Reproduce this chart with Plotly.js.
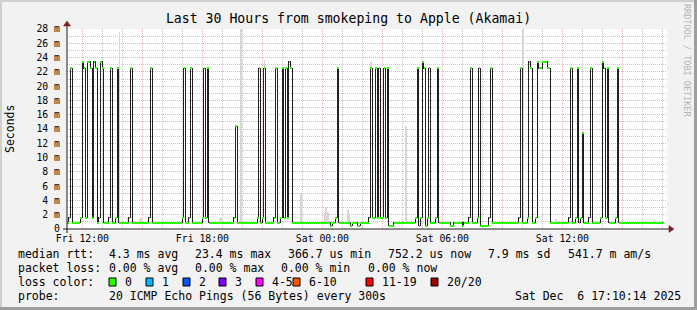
<!DOCTYPE html>
<html><head><meta charset="utf-8">
<script src="https://cdn.plot.ly/plotly-3.0.1.min.js"></script>
<style>html,body{margin:0;padding:0;background:#f2f2f2;}#chart{width:697px;height:310px;}
.scatterlayer .js-line{shape-rendering:crispEdges;}</style>
</head><body><div id="chart"></div>
<script>
// ---- data ----
const START_HOUR = 11.23;          // hours since Fri 00:00 at left edge
const STEP_HOURS = 5 / 60;         // 300 s samples
const medianMs = [
0.85,1.6,22.5,0.85,0.85,0.85,0.85,0.85,1.6,23.4, 22.5,1.6,23.4,23.4,22.5,1.6,23.4,22.5,0.85,1.6,
23.4,22.5,0.85,0.85,0.85,1.6,22.5,0.85,0.85,1.6, 22.5,0.85,0.85,0.85,0.85,0.85,0.85,1.6,22.5,0.85,
0.85,0.85,0.85,0.85,0.85,0.85,0.85,0.85,0.85,1.6, 22.5,0.85,0.85,0.85,0.85,0.85,0.85,0.85,0.85,0.85,
0.85,0.85,0.85,0.85,0.85,0.85,0.85,0.85,0.85,1.6, 22.5,0.85,0.85,1.6,22.5,0.85,0.85,0.85,0.85,0.85,
0.85,1.6,22.5,1.6,22.5,0.85,0.85,0.85,0.85,0.85, 0.85,0.85,0.85,0.85,0.85,0.85,0.85,0.85,0.85,0.85,
1.6,14.4,0.85,0.85,0.85,0.85,0.85,0.85,0.85,0.85, 0.85,0.85,0.85,0.85,1.6,22.5,0.85,1.6,22.5,0.85,
0.85,0.85,0.85,0.85,1.6,22.5,0.85,0.85,1.6,22.5, 1.6,22.5,1.6,23.4,22.5,0.85,0.85,0.85,0.85,0.85,
0.85,0.85,0.85,0.85,0.85,0.85,0.85,0.85,0.85,0.85, 0.85,0.85,0.85,0.85,0.85,0.85,0.85,0.85,0.45,0.85,
0.85,1.6,22.5,0.85,0.85,0.85,0.85,0.85,0.85,0.85, 0.45,0.85,0.85,0.85,0.45,0.45,0.85,0.85,0.85,0.85,
0.85,1.6,22.5,1.6,1.6,22.5,1.6,22.5,1.6,1.6, 22.5,1.6,22.5,0.45,0.45,0.45,0.85,0.85,0.85,0.85,
0.85,0.85,0.85,0.85,0.85,0.85,0.85,0.85,0.85,1.6, 22.5,0.45,1.6,23.4,22.5,0.45,1.6,22.5,0.85,0.85,
0.85,1.6,22.5,0.85,0.85,0.85,0.85,0.85,0.85,0.85, 0.45,0.45,0.85,0.85,0.85,0.85,0.85,0.45,0.85,0.85,
0.85,1.6,22.5,0.85,0.85,0.85,1.6,22.5,0.45,0.45, 0.45,0.45,0.45,1.6,22.5,0.85,0.85,0.85,0.85,0.85,
0.85,0.85,0.85,0.85,0.85,0.85,0.85,0.85,0.85,0.85, 0.85,1.6,22.5,0.85,0.85,0.85,1.6,23.4,22.5,0.85,
0.85,1.6,23.4,22.5,22.5,23.4,23.4,23.4,22.5,22.5, 0.85,0.85,0.85,0.85,0.85,0.85,0.85,0.85,0.85,0.85,
0.85,1.6,22.5,0.85,0.85,1.6,22.5,0.85,1.6,13.5, 0.85,0.85,0.85,1.6,22.5,0.85,0.85,0.85,0.85,0.85,
1.6,23.4,22.5,1.6,22.5,0.85,0.85,0.85,0.85,1.6, 22.5,0.85,0.85,0.85,0.85,0.85,0.85,0.85,0.85,0.85,
0.85,0.85,0.85,0.85,0.85,0.85,0.85,0.85,0.85,0.85, 0.85,0.85,0.85,0.85,0.85,0.85,0.85,0.85
];
const smokeIndex  = [31, 36, 43, 44, 91, 92, 104, 118, 140, 154, 155, 156, 168, 169, 182, 203, 273, 293, 307, 333, 352];
const smokeLowMs  = [1.0,1.0,1.0,1.0,1.0,1.0,1.0,22.5,1.0,1.0,1.0,1.0,1.0,1.0,22.5,1.0,1.0,1.0,1.0,1.0,1.0];
const smokeHighMs = [27.6,1.5,1.4,1.5,1.6,1.5,28.0,23.6,4.9,2.2,3.1,2.4,2.6,2.0,23.4,14.4,28.0,1.4,1.5,1.3,1.4];

const xTickHours  = [12, 15, 18, 21, 24, 27, 30, 33, 36, 39];
const xTickLabels = ['Fri 12:00', '', 'Fri 18:00', '', 'Sat 00:00', '', 'Sat 06:00', '', 'Sat 12:00', ''];
const yTickValues = [0, 2, 4, 6, 8, 10, 12, 14, 16, 18, 20, 22, 24, 26, 28];
const yTickLabels = ['0', '2 m', '4 m', '6 m', '8 m', '10 m', '12 m', '14 m', '16 m', '18 m', '20 m', '22 m', '24 m', '26 m', '28 m'];

const lossLabels = ['0', '1', '2', '3', '4-5', '6-10', '11-19', '20/20'];
const lossColors = ['#26ff00', '#00b8ff', '#0059ff', '#7e00ff', '#ff00ff', '#ff5500', '#ff0000', '#a10000'];

const titleText = 'Last 30 Hours from smokeping to Apple (Akamai)';
const rttLegend = [['median rtt:', 16], ['4.3 ms avg', 107], ['23.4 ms max', 193], ['366.7 us min', 286], ['752.2 us now', 386], ['7.9 ms sd', 486], ['541.7 m am/s', 566]];
const lossLegend = [['packet loss:', 16], ['0.00 % avg', 107], ['0.00 % max', 193], ['0.00 % min', 279], ['0.00 % now', 366]];
const probeLegend = [['probe:', 16], ['20 ICMP Echo Pings (56 Bytes) every 300s', 107], ['Sat Dec\u00a0\u00a06 17:10:14 2025', 513]];

// ---- geometry helpers (pixel -> paper) ----
const PL = 67, PW = 600, PB = 229, PH = 200;
const px = p => (p - PL) / PW;
const py = p => (PB - p) / PH;

// ---- traces ----
const times = medianMs.map((v, i) => START_HOUR + i * STEP_HOURS);
const lineX = times.concat([START_HOUR + medianMs.length * STEP_HOURS]);
const lineY = medianMs.concat([medianMs[medianMs.length - 1]]);

const segX = [], segY = [];
medianMs.forEach((v, i) => {
  segX.push(times[i], times[i] + STEP_HOURS, null);
  segY.push(v, v, null);
});

const smokeTrace = {
  type: 'bar',
  x: smokeIndex.map(i => START_HOUR + (i + 0.5) * STEP_HOURS),
  base: smokeLowMs,
  y: smokeHighMs.map((h, k) => h - smokeLowMs[k]),
  width: STEP_HOURS,
  marker: {color: '#d6d6d6', line: {width: 0}},
  hoverinfo: 'skip'
};
const medianTrace = {
  type: 'scatter', mode: 'lines', x: lineX, y: lineY,
  line: {shape: 'hv', color: '#202020', width: 1},
  hoverinfo: 'skip'
};
const lossTrace = {
  type: 'scatter', mode: 'lines', x: segX, y: segY, connectgaps: false,
  line: {color: lossColors[0], width: 2},
  hoverinfo: 'skip'
};

// ---- layout decorations ----
const FONT = 'DejaVu Sans Mono';
const annotations = [];
function addText(text, x, y, size, extra) {
  annotations.push(Object.assign({
    text: text.replace(/ /g, '\u00a0'), xref: 'paper', yref: 'paper',
    x: px(x), y: py(y), xanchor: 'left', yanchor: 'middle', showarrow: false,
    font: {family: FONT, size: size, color: '#000'}
  }, extra || {}));
}
rttLegend.forEach(([t, x]) => addText(t, x, 254, 11.5));
lossLegend.forEach(([t, x]) => addText(t, x, 268, 11.5));
probeLegend.forEach(([t, x]) => addText(t, x, 296, 11.5));
addText('loss color:', 16, 282, 11.5);

const shapes = [];
const sqX = [109, 146, 183, 219, 256, 293, 366, 431];
const lblX = [123, 160, 197, 233, 270, 307, 380, 445];
lossLabels.forEach((lab, k) => {
  shapes.push({type: 'rect', xref: 'paper', yref: 'paper', x0: px(sqX[k]), x1: px(sqX[k] + 7), y0: py(286), y1: py(278),
    fillcolor: lossColors[k], line: {color: '#000', width: 1}});
  addText(lab, lblX[k], 282, 11.5);
});

addText('Seconds', 10, 129, 11.5, {textangle: -90, xanchor: 'center', yanchor: 'middle'});
annotations.push({text: 'RRDTOOL / TOBI OETIKER', xref: 'paper', yref: 'paper', x: px(687), y: py(60),
  xanchor: 'center', yanchor: 'middle', textangle: 90, showarrow: false,
  font: {family: FONT, size: 8.5, color: '#b4b4b4'}});

// axes lines & arrows
shapes.push({type: 'line', xref: 'paper', yref: 'paper', x0: px(63), x1: px(670), y0: 0, y1: 0, line: {color: '#1f1f1f', width: 1}, layer: 'above'});
shapes.push({type: 'line', xref: 'paper', yref: 'paper', x0: 0, x1: 0, y0: py(233), y1: py(25), line: {color: '#1f1f1f', width: 1}, layer: 'above'});
shapes.push({type: 'path', xref: 'paper', yref: 'paper', layer: 'above',
  path: `M ${px(669)} ${py(225.5)} L ${px(674)} ${py(229)} L ${px(669)} ${py(232.5)} Z`,
  fillcolor: '#801f1f', line: {color: '#801f1f', width: 0.5}});
shapes.push({type: 'path', xref: 'paper', yref: 'paper', layer: 'above',
  path: `M ${px(63.5)} ${py(26)} L ${px(67)} ${py(21)} L ${px(70.5)} ${py(26)} Z`,
  fillcolor: '#801f1f', line: {color: '#801f1f', width: 0.5}});
// frame shading
shapes.push({type: 'rect', xref: 'paper', yref: 'paper', x0: px(0), x1: px(697), y0: py(0), y1: py(2), fillcolor: '#cfcfcf', line: {width: 0}});
shapes.push({type: 'rect', xref: 'paper', yref: 'paper', x0: px(0), x1: px(2), y0: py(0), y1: py(310), fillcolor: '#cfcfcf', line: {width: 0}});
shapes.push({type: 'rect', xref: 'paper', yref: 'paper', x0: px(0), x1: px(697), y0: py(307), y1: py(310), fillcolor: '#9e9e9e', line: {width: 0}});
shapes.push({type: 'rect', xref: 'paper', yref: 'paper', x0: px(694), x1: px(697), y0: py(0), y1: py(310), fillcolor: '#9e9e9e', line: {width: 0}});

const minorX = [];
for (let h = 12; h <= 41; h++) if (h % 3 !== 0) minorX.push(h);
const minorY = [];
for (let m = 1; m < 28; m += 2) minorY.push(m);

const GRID = 'rgba(143,143,143,0.5)';
const MGRID = 'rgba(222,79,79,0.45)';

const layout = {
  width: 697, height: 310,
  margin: {l: PL, r: 697 - PL - PW, t: PB - PH, b: 310 - PB, pad: 0},
  paper_bgcolor: '#f2f2f2', plot_bgcolor: '#ffffff',
  showlegend: false, barmode: 'overlay', bargap: 0,
  font: {family: FONT, size: 10, color: '#000'},
  title: {text: titleText, font: {family: FONT, size: 13.2, color: '#000'},
    x: 0.5, xref: 'container', xanchor: 'center', y: 1 - 18 / 310, yref: 'container', yanchor: 'middle'},
  xaxis: {range: [START_HOUR, START_HOUR + 30], tickmode: 'array', tickvals: xTickHours, ticktext: xTickLabels,
    showgrid: true, gridcolor: MGRID, griddash: '1px,1px', gridwidth: 1, zeroline: false, showline: false,
    ticks: '', ticklabelstandoff: 2, tickfont: {family: FONT, size: 9.8, color: '#000'}, fixedrange: true,
    minor: {tickmode: 'array', tickvals: minorX, showgrid: true, gridcolor: GRID, griddash: '1px,1px', ticks: ''}},
  yaxis: {range: [0, 28], tickmode: 'array', tickvals: yTickValues, ticktext: yTickLabels,
    showgrid: true, gridcolor: MGRID, griddash: '1px,1px', gridwidth: 1, zeroline: false, showline: false,
    ticks: '', ticklabelstandoff: 6, tickfont: {family: FONT, size: 9.8, color: '#000'}, fixedrange: true,
    minor: {tickmode: 'array', tickvals: minorY, showgrid: true, gridcolor: GRID, griddash: '1px,1px', ticks: ''}},
  shapes: shapes, annotations: annotations
};

Plotly.newPlot('chart', [smokeTrace, medianTrace, lossTrace], layout, {staticPlot: true, displayModeBar: false});
</script>
</body></html>
